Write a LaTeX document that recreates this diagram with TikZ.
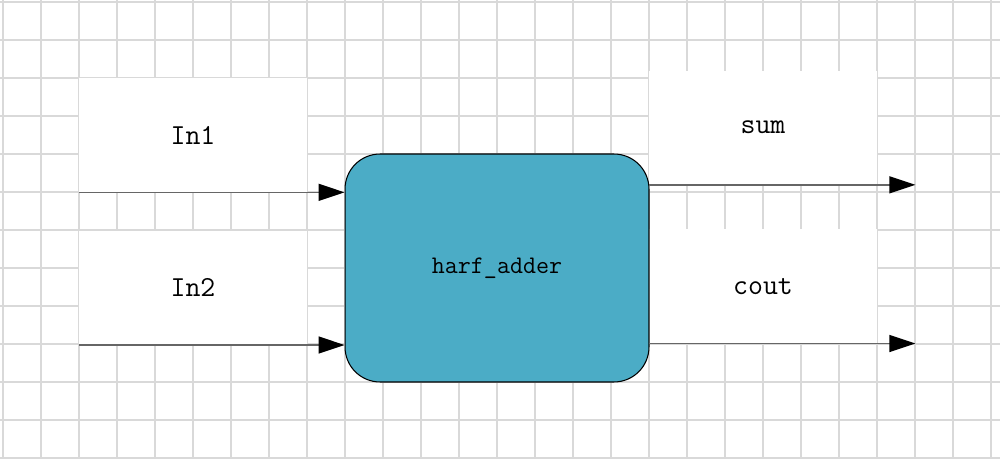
\documentclass[tikz,border=0pt]{standalone}
\usepackage{xcolor}
\usepackage{tikz}
\usetikzlibrary{positioning,arrows.meta}

\definecolor{adderblue}{RGB}{75,172,198}
\definecolor{gridgray}{RGB}{217,217,217}

\tikzset{
	portbox/.style={rectangle,fill=white,inner sep=0pt,minimum width=4.56cm,minimum height=2.28cm,font=\ttfamily\fontsize{16.5}{18}\selectfont},
	blockbox/.style={rectangle,draw=black,line width=0.6pt,fill=adderblue,rounded corners=0.7cm,inner sep=0pt,minimum width=6.08cm,minimum height=4.56cm,font=\ttfamily\fontsize{14.4}{16}\selectfont},
	sig/.style={draw=black!60,line width=0.8pt,-{Triangle[length=14.8pt,width=9.7pt,color=black]}},
	gridline/.style={draw=gridgray,line width=1.1pt}
}

\begin{document}
\begin{tikzpicture}[x=0.02cm,y=-0.02cm]
	\useasboundingbox (0,0) rectangle (1000,459);
	% Raster
	\foreach \gx in {3,41,...,991} \draw[gridline] (\gx,0) -- (\gx,459);
	\foreach \gy in {2,40,...,458} \draw[gridline] (0,\gy) -- (1000,\gy);

	% Eingaenge
	\node[portbox] (in1) at (193,135) {In1};
	\node[portbox, below=0.76cm of in1] (in2) {In2};
	% Ausgaenge
	\node[portbox] (sum) at (763,127.5) {sum};
	\node[portbox, below=0.88cm of sum] (cout) {cout};
	\coordinate (sumend) at ([xshift=0.76cm]sum.south east);
	\coordinate (coutend) at ([xshift=0.76cm]cout.south east);
	% Halbaddierer
	\node[blockbox] (adder) at (497,268) {harf\_adder};

	% Pfeile
	\draw[sig] (in1.south west) -- (in1.south west -| adder.west);
	\draw[sig] (in2.south west) -- (in2.south west -| adder.west);
	\draw[sig] (sum.south west) -- (sumend);
	\draw[sig] (cout.south west) -- (coutend);
\end{tikzpicture}
\end{document}
